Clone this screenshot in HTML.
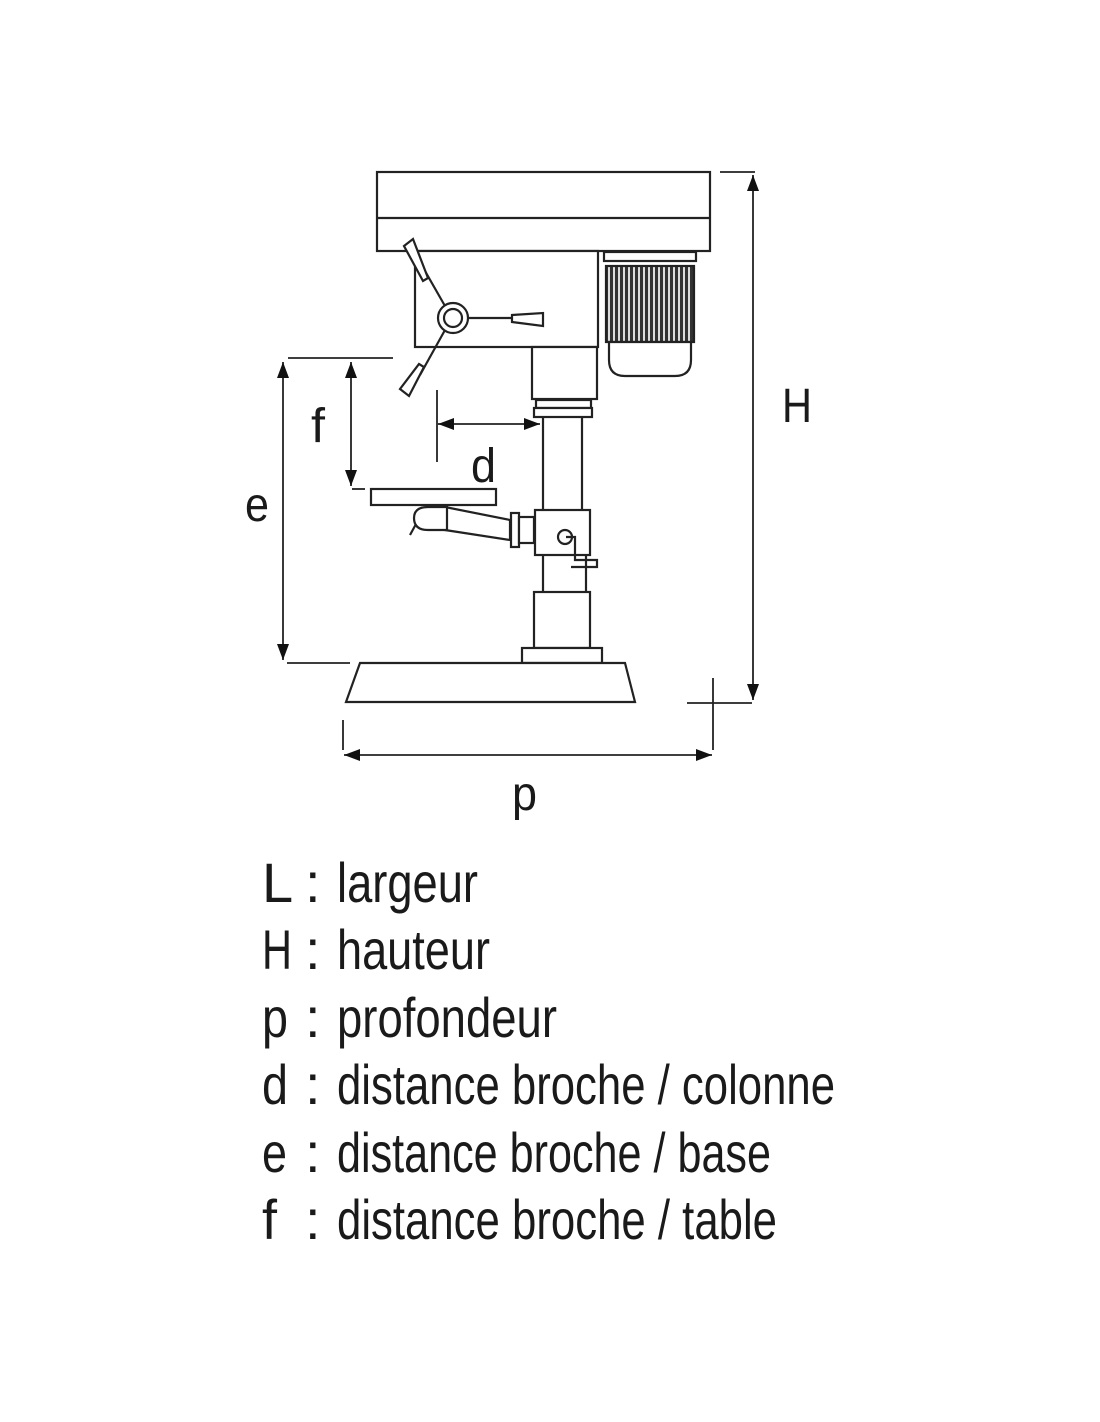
<!DOCTYPE html>
<html><head><meta charset="utf-8"><style>
html,body{margin:0;padding:0;background:#fff;}
svg{display:block;}
text{font-family:"Liberation Sans",sans-serif;fill:#1a1a1a;}
</style></head><body>
<svg width="1100" height="1422" viewBox="0 0 1100 1422" xmlns="http://www.w3.org/2000/svg">
<defs>
<marker id="a" viewBox="0 0 16 12" refX="16" refY="6" markerWidth="16" markerHeight="12" markerUnits="userSpaceOnUse" orient="auto-start-reverse"><path d="M0,0 L16,6 L0,12 z" fill="#111"/></marker>
<pattern id="rib" width="5" height="10" patternUnits="userSpaceOnUse"><rect width="5" height="10" fill="#ddd"/><rect width="3" height="10" fill="#333"/></pattern>
</defs>
<g fill="#fff" stroke="#222" stroke-width="2.2">
<rect x="377" y="172" width="333" height="79"/>
<line x1="377" y1="218" x2="710" y2="218"/>
<rect x="604" y="252" width="92" height="9"/>
<rect x="606" y="266" width="88" height="76" fill="url(#rib)"/>
<path d="M609 342 L691 342 L691 360 Q691 376 675 376 L625 376 Q609 376 609 360 Z"/>
<rect x="415" y="251" width="183" height="96"/>
<rect x="532" y="347" width="65" height="52"/>
<rect x="536" y="400" width="55" height="8"/>
<rect x="534" y="408" width="58" height="9"/>
<line x1="543" y1="417" x2="543" y2="592"/>
<line x1="582" y1="417" x2="582" y2="510"/>
<line x1="586" y1="555" x2="586" y2="592"/>
<line x1="445" y1="306" x2="413" y2="250"/>
<path d="M404 246 L413 239 L428 278 L423 281 Z"/>
<line x1="467" y1="318" x2="512" y2="318"/>
<path d="M512 315 L543 313 L543 326 L512 322 Z"/>
<line x1="445" y1="330" x2="420" y2="375"/>
<path d="M400 389 L409 396 L424 367 L419 364 Z"/>
<circle cx="453" cy="318" r="15"/>
<circle cx="453" cy="318" r="9"/>
<rect x="371" y="489" width="125" height="16"/>
<path d="M445 507 L510 520 L510 540 L445 530 Z"/>
<path d="M428 507 L447 507 L447 530 L428 530 Q414 530 414 518 Q414 507 428 507 Z"/>
<line x1="416" y1="524" x2="410" y2="535"/>
<rect x="511" y="513" width="8" height="34"/>
<rect x="519" y="517" width="15" height="26"/>
<rect x="535" y="510" width="55" height="45"/>
<circle cx="565" cy="537" r="7"/>
<path d="M566 537 L575 537 L575 560 L597 560 L597 567 L571 567" fill="none"/>
<rect x="534" y="592" width="56" height="56"/>
<rect x="522" y="648" width="80" height="15"/>
<path d="M360 663 L625 663 L635 702 L346 702 Z"/>
</g>
<g stroke="#222" stroke-width="1.8" fill="none">
<line x1="720" y1="172" x2="755" y2="172"/>
<line x1="753" y1="175" x2="753" y2="700" marker-start="url(#a)" marker-end="url(#a)"/>
<line x1="713" y1="678" x2="713" y2="750"/>
<line x1="687" y1="703" x2="752" y2="703"/>
<line x1="343" y1="720" x2="343" y2="750"/>
<line x1="344" y1="755" x2="712" y2="755" marker-start="url(#a)" marker-end="url(#a)"/>
<line x1="288" y1="358" x2="393" y2="358"/>
<line x1="287" y1="663" x2="350" y2="663"/>
<line x1="283" y1="362" x2="283" y2="660" marker-start="url(#a)" marker-end="url(#a)"/>
<line x1="351" y1="362" x2="351" y2="486" marker-start="url(#a)" marker-end="url(#a)"/>
<line x1="352" y1="489" x2="365" y2="489"/>
<line x1="437" y1="390" x2="437" y2="462"/>
<line x1="438" y1="424" x2="540" y2="424" marker-start="url(#a)" marker-end="url(#a)"/>
</g>
<g font-size="48">
<text x="782" y="422" textLength="30" lengthAdjust="spacingAndGlyphs">H</text>
<text x="311" y="442" textLength="14" lengthAdjust="spacingAndGlyphs">f</text>
<text x="471" y="482" textLength="25" lengthAdjust="spacingAndGlyphs">d</text>
<text x="245" y="521" textLength="24" lengthAdjust="spacingAndGlyphs">e</text>
<text x="512" y="810" textLength="25" lengthAdjust="spacingAndGlyphs">p</text>
</g>
<g font-size="56">
<text x="262" y="902">L</text><text x="305" y="902">:</text><text x="337" y="902" textLength="141" lengthAdjust="spacingAndGlyphs">largeur</text>
<text x="262" y="969" textLength="30" lengthAdjust="spacingAndGlyphs">H</text><text x="305" y="969">:</text><text x="337" y="969" textLength="153" lengthAdjust="spacingAndGlyphs">hauteur</text>
<text x="262" y="1037" textLength="26" lengthAdjust="spacingAndGlyphs">p</text><text x="305" y="1037">:</text><text x="337" y="1037" textLength="220" lengthAdjust="spacingAndGlyphs">profondeur</text>
<text x="262" y="1104" textLength="26" lengthAdjust="spacingAndGlyphs">d</text><text x="305" y="1104">:</text><text x="337" y="1104" textLength="498" lengthAdjust="spacingAndGlyphs">distance broche / colonne</text>
<text x="262" y="1172" textLength="25" lengthAdjust="spacingAndGlyphs">e</text><text x="305" y="1172">:</text><text x="337" y="1172" textLength="434" lengthAdjust="spacingAndGlyphs">distance broche / base</text>
<text x="262" y="1239" textLength="15" lengthAdjust="spacingAndGlyphs">f</text><text x="305" y="1239">:</text><text x="337" y="1239" textLength="440" lengthAdjust="spacingAndGlyphs">distance broche / table</text>
</g>
</svg>
</body></html>
